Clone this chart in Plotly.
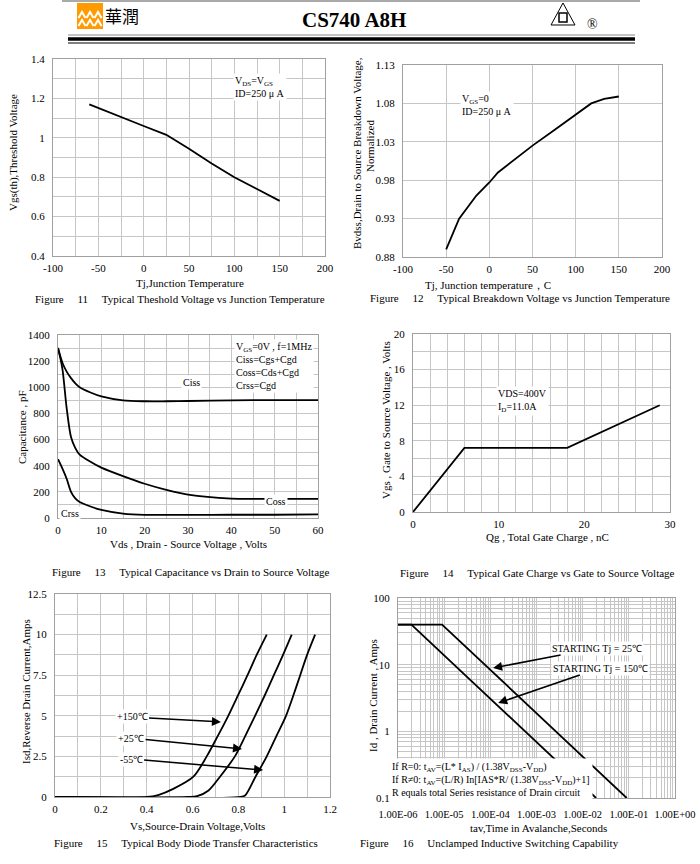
import plotly.graph_objects as go

W, H = 700, 864
def PX(x): return x / W
def PY(y): return 1 - y / H

# ---------------- data ----------------
fig11_temp = [-60, -25, 0, 25, 50, 75, 100, 125, 150]
fig11_vth = [1.17, 1.108, 1.06, 1.015, 0.945, 0.87, 0.80, 0.74, 0.68]

fig12_temp = [-50, -35, -15, 0, 10, 30, 50, 75, 100, 118, 133, 150]
fig12_bvdss = [0.89, 0.93, 0.96, 0.977, 0.99, 1.008, 1.025, 1.045, 1.065, 1.08, 1.086, 1.089]

fig13_vds = [0, 1, 2, 3, 4, 5, 7.5, 10, 15, 20, 25, 30, 40, 50, 60]
fig13_ciss = [1300, 1190, 1120, 1070, 1030, 1000, 960, 930, 900, 893, 893, 895, 900, 902, 902]
fig13_coss = [1300, 1145, 840, 620, 535, 485, 430, 385, 320, 262, 215, 178, 148, 147, 147]
fig13_crss = [450, 380, 300, 200, 150, 122, 88, 62, 34, 24, 24, 24, 25, 25, 27]

fig14_qg = [0, 6, 18, 28.8]
fig14_vgs = [0, 7.2, 7.2, 12]

fig15_v150 = [0, 0.40, 0.45, 0.516, 0.604, 0.662, 0.71, 0.756, 0.80, 0.84, 0.88, 0.924]
fig15_i150 = [0, 0, 0.12, 0.5, 1.25, 2.5, 3.75, 5, 6.3, 7.5, 8.75, 10]
fig15_v25 = [0, 0.58, 0.62, 0.67, 0.72, 0.785, 0.83, 0.873, 0.915, 0.955, 0.995, 1.033]
fig15_i25 = [0, 0, 0.05, 0.4, 1.25, 2.5, 3.75, 5, 6.25, 7.5, 8.75, 10]
fig15_vm55 = [0, 0.81, 0.83, 0.875, 0.924, 0.966, 1.008, 1.04, 1.07, 1.10, 1.135]
fig15_im55 = [0, 0, 0.1, 1.25, 2.5, 3.75, 5, 6.25, 7.5, 8.75, 10]

fig16_t25 = [1e-6, 9e-6, 0.09]
fig16_i25 = [40, 40, 0.1]
fig16_t150 = [1e-6, 1.95e-6, 0.0195]
fig16_i150 = [40, 40, 0.1]

# tick labels
t11_x = [-100, -50, 0, 50, 100, 150, 200]
t11_y = [0.4, 0.6, 0.8, 1.0, 1.2, 1.4]
t11_ytext = ["0.4", "0.6", "0.8", "1", "1.2", "1.4"]
t12_x = [-100, -50, 0, 50, 100, 150, 200]
t12_y = [0.88, 0.93, 0.98, 1.03, 1.08, 1.13]
t12_ytext = ["0.88", "0.93", "0.98", "1.03", "1.08", "1.13"]
t13_x = [0, 10, 20, 30, 40, 50, 60]
t13_y = [0, 200, 400, 600, 800, 1000, 1200, 1400]
t14_x = [0, 10, 20, 30]
t14_y = [0, 4, 8, 12, 16, 20]
t15_x = [0, 0.2, 0.4, 0.6, 0.8, 1.0, 1.2]
t15_xtext = ["0", "0.2", "0.4", "0.6", "0.8", "1", "1.2"]
t15_y = [0, 2.5, 5, 7.5, 10, 12.5]
t15_ytext = ["0", "2.5", "5", "7.5", "10", "12.5"]
t16_x = [1e-6, 1e-5, 1e-4, 1e-3, 1e-2, 1e-1, 1e0]
t16_xtext = ["1.00E-06", "1.00E-05", "1.00E-04", "1.00E-03", "1.00E-02", "1.00E-01", "1.00E+00"]
t16_y = [0.1, 1, 10, 100]
t16_ytext = ["0.1", "1", "10", "100"]

# ---------------- styling ----------------
SERIF = "Liberation Serif"
GRID = "#c6c6c6"
BORDER = "#a0a0a0"
TICKFONT = dict(family=SERIF, size=11, color="black")

fig = go.Figure()

# plot rectangles in pixels: (x0, x1, y0top, y1bottom)
boxes = {
    1: (53, 325, 59, 256),
    2: (403, 662, 65, 257),
    3: (58, 318, 335, 518),
    4: (413, 670, 334, 512),
    5: (55, 330, 594, 797),
    6: (398, 675, 598, 798),
}

def set_axes(n, xr, yr, xt, xtt, yt, ytt, xminor=None, yminor=None, xtype="linear", ytype="linear",
             xminor_vals=None, yminor_vals=None):
    x0, x1, y0, y1 = boxes[n]
    sfx = "" if n == 1 else str(n)
    common = dict(showline=True, mirror=True, linecolor=BORDER, linewidth=1, showgrid=True,
                  gridcolor=GRID, gridwidth=1, zeroline=False, ticks="", tickfont=TICKFONT,
                  automargin=False)
    xa = dict(common, domain=[PX(x0), PX(x1)], anchor="y" + sfx, range=xr, type=xtype,
              tickmode="array", tickvals=xt, ticktext=xtt, tickangle=0, ticklabelstandoff=2)
    ya = dict(common, domain=[PY(y1), PY(y0)], anchor="x" + sfx, range=yr, type=ytype,
              tickmode="array", tickvals=yt, ticktext=ytt, ticklabelstandoff=5)
    if xminor is not None:
        xa["minor"] = dict(dtick=xminor, showgrid=True, gridcolor=GRID, ticks="")
    if yminor is not None:
        ya["minor"] = dict(dtick=yminor, showgrid=True, gridcolor=GRID, ticks="")
    if xminor_vals is not None:
        xa["minor"] = dict(tickvals=xminor_vals, showgrid=True, gridcolor=GRID, ticks="")
    if yminor_vals is not None:
        ya["minor"] = dict(tickvals=yminor_vals, showgrid=True, gridcolor=GRID, ticks="")
    fig.update_layout(**{"xaxis" + sfx: xa, "yaxis" + sfx: ya})

set_axes(1, [-100, 200], [0.4, 1.4], t11_x, [str(v) for v in t11_x], t11_y, t11_ytext, xminor=25, yminor=0.1)
set_axes(2, [-100, 200], [0.88, 1.13], t12_x, [str(v) for v in t12_x], t12_y, t12_ytext)
set_axes(3, [0, 60], [0, 1400], t13_x, [str(v) for v in t13_x], t13_y, [str(v) for v in t13_y], xminor=5, yminor=100)
set_axes(4, [0, 30], [0, 20], t14_x, [str(v) for v in t14_x], t14_y, [str(v) for v in t14_y], xminor=2, yminor=2)
set_axes(5, [0, 1.2], [0, 12.5], t15_x, t15_xtext, t15_y, t15_ytext, xminor=0.1, yminor=1.25)
minor_x16 = [m * 10 ** e for e in range(-6, 0) for m in range(2, 10)]
minor_y16 = [m * 10 ** e for e in range(-1, 2) for m in range(2, 10)]
set_axes(6, [-6, 0], [-1, 2], t16_x, t16_xtext, t16_y, t16_ytext, xtype="log", ytype="log",
         xminor_vals=minor_x16, yminor_vals=minor_y16)
fig.update_layout(xaxis6=dict(tickfont=dict(family=SERIF, size=10.5, color="black"), ticklabelstandoff=6))

LINE = dict(color="black", width=1.8)
def add(n, x, y, shape="linear"):
    sfx = "" if n == 1 else str(n)
    ln = dict(LINE, shape=shape)
    if shape == "spline":
        ln["smoothing"] = 0.8
    fig.add_trace(go.Scatter(x=x, y=y, mode="lines", line=ln,
                             xaxis="x" + sfx, yaxis="y" + sfx, showlegend=False, hoverinfo="skip"))

add(1, fig11_temp, fig11_vth)
add(2, fig12_temp, fig12_bvdss)
add(3, fig13_vds, fig13_ciss, "spline")
add(3, fig13_vds, fig13_coss, "spline")
add(3, fig13_vds, fig13_crss, "spline")
add(4, fig14_qg, fig14_vgs)
add(5, fig15_v150, fig15_i150, "spline")
add(5, fig15_v25, fig15_i25, "spline")
add(5, fig15_vm55, fig15_im55, "spline")
add(6, fig16_t25, fig16_i25)
add(6, fig16_t150, fig16_i150)

ann = []
def ptext(x, y, text, size=11, angle=0, xanchor="center", bold=False, family=SERIF):
    ann.append(dict(x=PX(x), y=PY(y), xref="paper", yref="paper", text=("<b>%s</b>" % text if bold else text),
                    showarrow=False, textangle=angle, xanchor=xanchor, yanchor="middle",
                    font=dict(family=family, size=size, color="black")))

NB = "\u00a0"
def cap(num, txt):
    return "Figure" + NB * 5 + num + NB * 5 + txt
# captions
ptext(180, 299, cap("11", "Typical Theshold Voltage vs Junction Temperature"))
ptext(520, 298, cap("12", "Typical Breakdown Voltage vs Junction Temperature"))
ptext(191, 572, cap("13", "Typical Capacitance vs Drain to Source Voltage"))
ptext(537, 573, cap("14", "Typical Gate Charge vs Gate to Source Voltage"))
ptext(186, 843, cap("15", "Typical Body Diode Transfer Characteristics"))
ptext(490, 843, cap("16", "Unclamped Inductive Switching Capability"))
# x titles
ptext(190, 283, "Tj,Junction Temperature")
ptext(488, 285, "Tj, Junction temperature，C")
ptext(188, 544, "Vds , Drain - Source Voltage , Volts")
ptext(547, 537, "Qg , Total Gate Charge , nC")
ptext(197, 826, "Vs,Source-Drain Voltage,Volts")
ptext(538, 828, "tav,Time in Avalanche,Seconds")
# y titles
ptext(13, 153, "Vgs(th),Threshold Voltage", angle=-90)
ptext(357, 153, "Bvdss,Drain to Source Breakdown Voltage,", angle=-90)
ptext(370, 146, "Normalized", angle=-90)
ptext(22, 427, "Capacitance , pF", angle=-90)
ptext(386, 420, "Vgs , Gate to Source Voltage , Volts", angle=-90)
ptext(26, 692, "Isd,Reverse Drain Current,Amps", angle=-90)
ptext(373, 695, "Id , Drain Current , Amps", angle=-90)

# header
ptext(354, 20, "CS740 A8H", size=21, bold=True)
ptext(122, 16, "華潤", size=17, family="Noto Sans CJK SC")
ptext(592, 24, "®", size=14)

def box_text(n, x, y, text, size=10, anchor_x="left", anchor_y="top"):
    sfx = "" if n == 1 else str(n)
    ann.append(dict(x=x, y=y, xref="x" + sfx, yref="y" + sfx, text=text, showarrow=False,
                    xanchor=anchor_x, yanchor=anchor_y, align="left", bgcolor="white", borderpad=1,
                    font=dict(family=SERIF, size=size, color="black")))

box_text(1, 99, 1.33, "V<sub>DS</sub>=V<sub>GS</sub><br>ID=250 μ A")
box_text(2, -34, 1.096, "V<sub>GS</sub>=0<br>ID=250 μ A")
box_text(3, 40.5, 1370, "V<sub>GS</sub>=0V , f=1MHz<br>Ciss=Cgs+Cgd<br>Coss=Cds+Cgd<br>Crss=Cgd")
box_text(3, 30.9, 1040, "Ciss", anchor_x="center", anchor_y="middle")
box_text(3, 50.3, 130, "Coss", anchor_x="center", anchor_y="middle")
box_text(3, 2.8, 31, "Crss", anchor_x="center", anchor_y="middle")
box_text(4, 9.7, 14.2, "VDS=400V<br>I<sub>D</sub>=11.0A")

# formula box of figure 16 (paper coordinates so it may overlap the axis edge)
ann.append(dict(x=PX(389), y=PY(758), xref="paper", yref="paper", showarrow=False,
                xanchor="left", yanchor="top", align="left", bgcolor="white", borderpad=2,
                text="If R=0: t<sub>AV</sub>=(L* I<sub>AS</sub>) / (1.38V<sub>DSS</sub>-V<sub>DD</sub>)<br>"
                     "If R≠0: t<sub>AV</sub>=(L/R) In[IAS*R/ (1.38V<sub>DSS</sub>-V<sub>DD</sub>)+1]<br>"
                     "R equals total Series resistance of Drain circuit",
                font=dict(family=SERIF, size=10, color="black")))

def arrow(n, tx, ty, hx, hy, text):
    sfx = "" if n == 1 else str(n)
    ann.append(dict(x=hx, y=hy, ax=tx, ay=ty, xref="x" + sfx, yref="y" + sfx, axref="x" + sfx, ayref="y" + sfx,
                    text=text, showarrow=True, arrowhead=2, arrowsize=1.2, arrowwidth=1.5, arrowcolor="black",
                    bgcolor="white", borderpad=1, font=dict(family=SERIF, size=10, color="black")))

arrow(5, 0.336, 4.93, 0.724, 4.62, "+150℃")
arrow(5, 0.332, 3.63, 0.816, 2.96, "+25℃")
arrow(5, 0.332, 2.34, 0.908, 1.66, "-55℃")
arrow(6, -1.69, 1.25, -3.94, 0.95, "STARTING Tj = 25℃")
arrow(6, -1.62, 0.95, -3.83, 0.425, "STARTING Tj = 150℃")

shapes = []
def hline(x0, x1, y, w, color="black"):
    shapes.append(dict(type="line", xref="paper", yref="paper", x0=PX(x0), x1=PX(x1), y0=PY(y), y1=PY(y),
                       line=dict(color=color, width=w)))
hline(62, 640, 1, 1, "#555555")
hline(68, 635, 35, 1, "#888888")
hline(68, 635, 39, 3.5)
hline(68, 635, 43, 1)
# orange logo
shapes.append(dict(type="rect", xref="paper", yref="paper", x0=PX(77), x1=PX(103), y0=PY(29), y1=PY(3),
                   fillcolor="#ff9a00", line=dict(width=0)))
for cx in (82, 90, 98):
    for cy in (14, 22):
        shapes.append(dict(type="path", xref="paper", yref="paper",
                           path="M %f %f L %f %f L %f %f" % (PX(cx - 3.5), PY(cy + 4), PX(cx), PY(cy - 2), PX(cx + 3.5), PY(cy + 4)),
                           line=dict(color="white", width=2)))
# right certification logo
shapes.append(dict(type="path", xref="paper", yref="paper",
                   path="M %f %f L %f %f L %f %f Z" % (PX(551), PY(25), PX(563), PY(3), PX(575), PY(25)),
                   line=dict(color="black", width=1)))
shapes.append(dict(type="rect", xref="paper", yref="paper", x0=PX(559), x1=PX(567), y0=PY(22), y1=PY(13),
                   line=dict(color="black", width=1.5)))

fig.update_layout(width=W, height=H, margin=dict(l=0, r=0, t=0, b=0, autoexpand=False), paper_bgcolor="white",
                  plot_bgcolor="white", annotations=ann, shapes=shapes, showlegend=False)
fig.write_html("out.html", config={"displayModeBar": False},
               post_script="document.body.style.margin='0';document.body.style.overflow='hidden';")
